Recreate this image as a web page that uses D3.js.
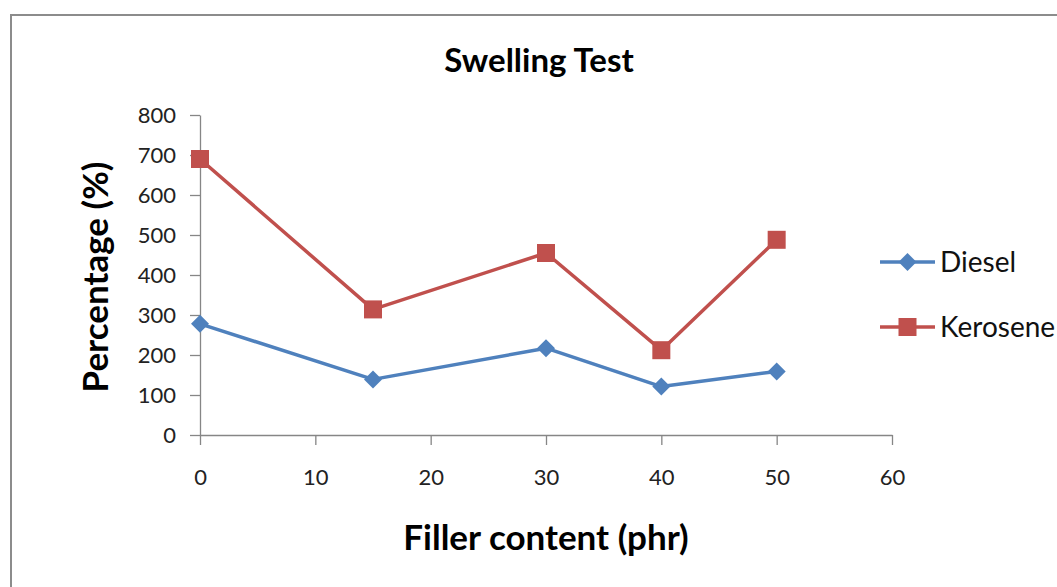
<!DOCTYPE html>
<html><head><meta charset="utf-8">
<script src="https://cdn.jsdelivr.net/npm/d3@7"></script>
<style>body{margin:0;background:#fff}svg{display:block}</style>
</head><body>
<script>
const xValues = [0, 15, 30, 40, 50];
const dieselValues = [278, 139, 217, 121, 159];
const keroseneValues = [690, 314, 455, 212, 488];
const seriesNames = ["Diesel", "Kerosene"];
const xTicks = [0, 10, 20, 30, 40, 50, 60];
const yTicks = [0, 100, 200, 300, 400, 500, 600, 700, 800];

const W = 1057, H = 587;
const font = "Lato, 'Open Sans', sans-serif";
const svg = d3.select("body").append("svg").attr("width", W).attr("height", H);

svg.append("rect").attr("x", 11).attr("y", 15).attr("width", 1100).attr("height", 700)
  .attr("fill", "#fff").attr("stroke", "#8c8c8c").attr("stroke-width", 2);

const x = d3.scaleLinear().domain([0, 60]).range([200, 892]);
const y = d3.scaleLinear().domain([0, 800]).range([435, 115]);

const axisColor = "#868686";
const yAxis = svg.append("g").attr("transform", "translate(200,0)")
  .call(d3.axisLeft(y).tickValues(yTicks).tickSize(10).tickSizeOuter(0).tickPadding(14));
const xAxis = svg.append("g").attr("transform", "translate(0,435)")
  .call(d3.axisBottom(x).tickValues(xTicks).tickSize(10).tickSizeOuter(0).tickPadding(24));
[xAxis, yAxis].forEach(g => {
  g.selectAll("path,line").attr("stroke", axisColor).attr("stroke-width", 1.3);
  g.selectAll("text").attr("fill", "#222").style("font-family", font).style("font-size", "22px");
});

const series = [
  {name: seriesNames[0], values: dieselValues, color: "#4F81BD", shape: "diamond"},
  {name: seriesNames[1], values: keroseneValues, color: "#C0504D", shape: "square"}
];
const line = d3.line().x(d => x(d[0])).y(d => y(d[1]));

function marker(g, shape, cx, cy, color) {
  if (shape === "square") {
    g.append("rect").attr("x", cx - 9).attr("y", cy - 9).attr("width", 18).attr("height", 18).attr("fill", color);
  } else {
    const s = 9;
    g.append("path").attr("d", `M${cx},${cy - s}L${cx + s},${cy}L${cx},${cy + s}L${cx - s},${cy}Z`).attr("fill", color);
  }
}

series.forEach(s => {
  const pts = xValues.map((xv, i) => [xv, s.values[i]]);
  svg.append("path").datum(pts).attr("d", line).attr("fill", "none")
    .attr("stroke", s.color).attr("stroke-width", 3.5).attr("stroke-linejoin", "round");
  const g = svg.append("g");
  pts.forEach(p => marker(g, s.shape, x(p[0]), y(p[1]), s.color));
});

// legend
series.forEach((s, i) => {
  const ly = 262 + i * 65;
  svg.append("line").attr("x1", 880).attr("x2", 935).attr("y1", ly).attr("y2", ly)
    .attr("stroke", s.color).attr("stroke-width", 3.5);
  marker(svg, s.shape, 907.5, ly, s.color);
  svg.append("text").attr("x", 940).attr("y", ly + 10).text(s.name)
    .style("font-family", font).style("font-size", "28px").attr("fill", "#111");
});

svg.append("text").attr("x", 539).attr("y", 72).attr("text-anchor", "middle")
  .text("Swelling Test").style("font-family", font).style("font-size", "33px").style("font-weight", "bold");
svg.append("text").attr("x", 546).attr("y", 550).attr("text-anchor", "middle")
  .text("Filler content (phr)").style("font-family", font).style("font-size", "35px").style("font-weight", "bold");
svg.append("text").attr("transform", "translate(108,277) rotate(-90)").attr("text-anchor", "middle")
  .text("Percentage (%)").style("font-family", font).style("font-size", "35px").style("font-weight", "bold");
</script>
</body></html>
